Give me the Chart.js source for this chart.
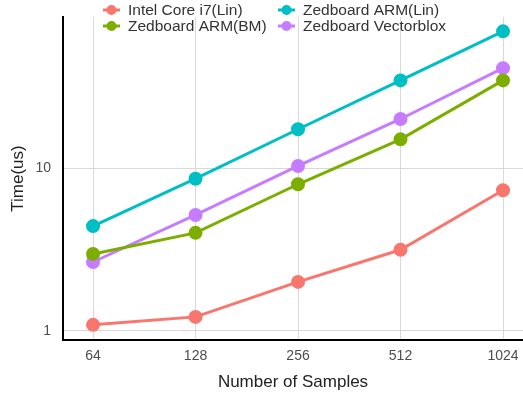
<!DOCTYPE html>
<html>
<head>
<meta charset="utf-8">
<script src="https://cdn.jsdelivr.net/npm/chart.js@4/dist/chart.umd.min.js"></script>
<style>
  html, body { margin: 0; background: #fff; overflow: hidden; }
  #wrap { width: 523px; height: 395px; position: relative; }
</style>
</head>
<body>
<div id="wrap"><canvas id="timeChart"></canvas></div>
<script>
// サンプル数（x軸のラベル）
const sampleLabels = ['64', '128', '256', '512', '1024'];
const seriesNames = ['Intel Core i7(Lin)', 'Zedboard ARM(Lin)', 'Zedboard ARM(BM)', 'Zedboard Vectorblox'];
const seriesColors = ['#F8766D', '#00BFC4', '#7CAE00', '#C77CFF'];

// 処理時間 (us)
const intelLin = [1.09, 1.22, 2.0, 3.15, 7.3];
const armLin = [4.4, 8.6, 17.3, 34.5, 69];
const armBM = [2.97, 4.0, 7.95, 15.0, 34.5];
const vectorblox = [2.65, 5.15, 10.3, 20.0, 41];
const yTickValues = [1, 10];

const allSeries = [intelLin, armLin, armBM, vectorblox];

const fontFamily = '"Liberation Sans", Arial, sans-serif';

// 2列の凡例を上に描く
const legendPlugin = {
    id: 'twoColLegend',
    afterDraw(chart) {
        const ctx = chart.ctx;
        const colX = [103, 278];
        const rowY = [10, 26];
        ctx.save();
        chart.data.datasets.forEach((ds, i) => {
            const x = colX[i % 2];
            const y = rowY[Math.floor(i / 2)];
            ctx.strokeStyle = ds.borderColor;
            ctx.lineWidth = 3;
            ctx.beginPath();
            ctx.moveTo(x, y);
            ctx.lineTo(x + 17, y);
            ctx.stroke();
            ctx.fillStyle = ds.borderColor;
            ctx.beginPath();
            ctx.arc(x + 8.5, y, 5, 0, Math.PI * 2);
            ctx.fill();
            ctx.fillStyle = '#333333';
            ctx.font = '15.5px ' + fontFamily;
            ctx.textBaseline = 'middle';
            ctx.textAlign = 'left';
            ctx.fillText(ds.label, x + 25, y + 1);
        });
        ctx.restore();
    }
};

const datasets = allSeries.map((values, i) => ({
    label: seriesNames[i],
    data: values.map((v, j) => ({ x: j, y: v })),
    borderColor: seriesColors[i],
    backgroundColor: seriesColors[i],
    borderWidth: 3,
    pointRadius: 5.5,
    pointHoverRadius: 5.5,
    tension: 0,
    clip: false
}));

new Chart(document.getElementById('timeChart').getContext('2d'), {
    type: 'line',
    data: { datasets: datasets },
    plugins: [legendPlugin],
    options: {
        responsive: true,
        maintainAspectRatio: false,
        animation: false,
        layout: { autoPadding: false, padding: { top: 17, right: 0, left: 0, bottom: 0 } },
        plugins: {
            legend: { display: false },
            tooltip: { enabled: false }
        },
        scales: {
            x: {
                type: 'linear',
                min: -0.293,
                max: 4.195,
                afterBuildTicks: (scale) => {
                    scale.ticks = sampleLabels.map((_, i) => ({ value: i }));
                },
                afterFit: (scale) => {
                    scale.height = 55;
                    scale.paddingLeft = 0;
                    scale.paddingRight = 0;
                },
                ticks: {
                    callback: (v) => sampleLabels[v],
                    color: '#4d4d4d',
                    font: { family: fontFamily, size: 14 },
                    padding: 8,
                    maxRotation: 0
                },
                grid: { color: '#d9d9d9', lineWidth: 1, drawTicks: false },
                border: { color: '#000000', width: 2 },
                title: {
                    display: true,
                    text: 'Number of Samples',
                    color: '#222222',
                    font: { family: fontFamily, size: 17 },
                    padding: { top: 4, bottom: 2 }
                }
            },
            y: {
                type: 'logarithmic',
                min: 0.88,
                max: 84.5,
                afterBuildTicks: (scale) => {
                    scale.ticks = yTickValues.map(v => ({ value: v }));
                },
                afterFit: (scale) => {
                    scale.width = 63;
                    scale.paddingTop = 0;
                    scale.paddingBottom = 0;
                },
                ticks: {
                    callback: (v) => String(v),
                    color: '#4d4d4d',
                    font: { family: fontFamily, size: 14 },
                    padding: 12
                },
                grid: { color: '#d9d9d9', lineWidth: 1, drawTicks: false },
                border: { color: '#000000', width: 2 },
                title: {
                    display: true,
                    text: 'Time(us)',
                    color: '#222222',
                    font: { family: fontFamily, size: 17 },
                    padding: { top: 8, bottom: 4 }
                }
            }
        }
    }
});
</script>
</body>
</html>
